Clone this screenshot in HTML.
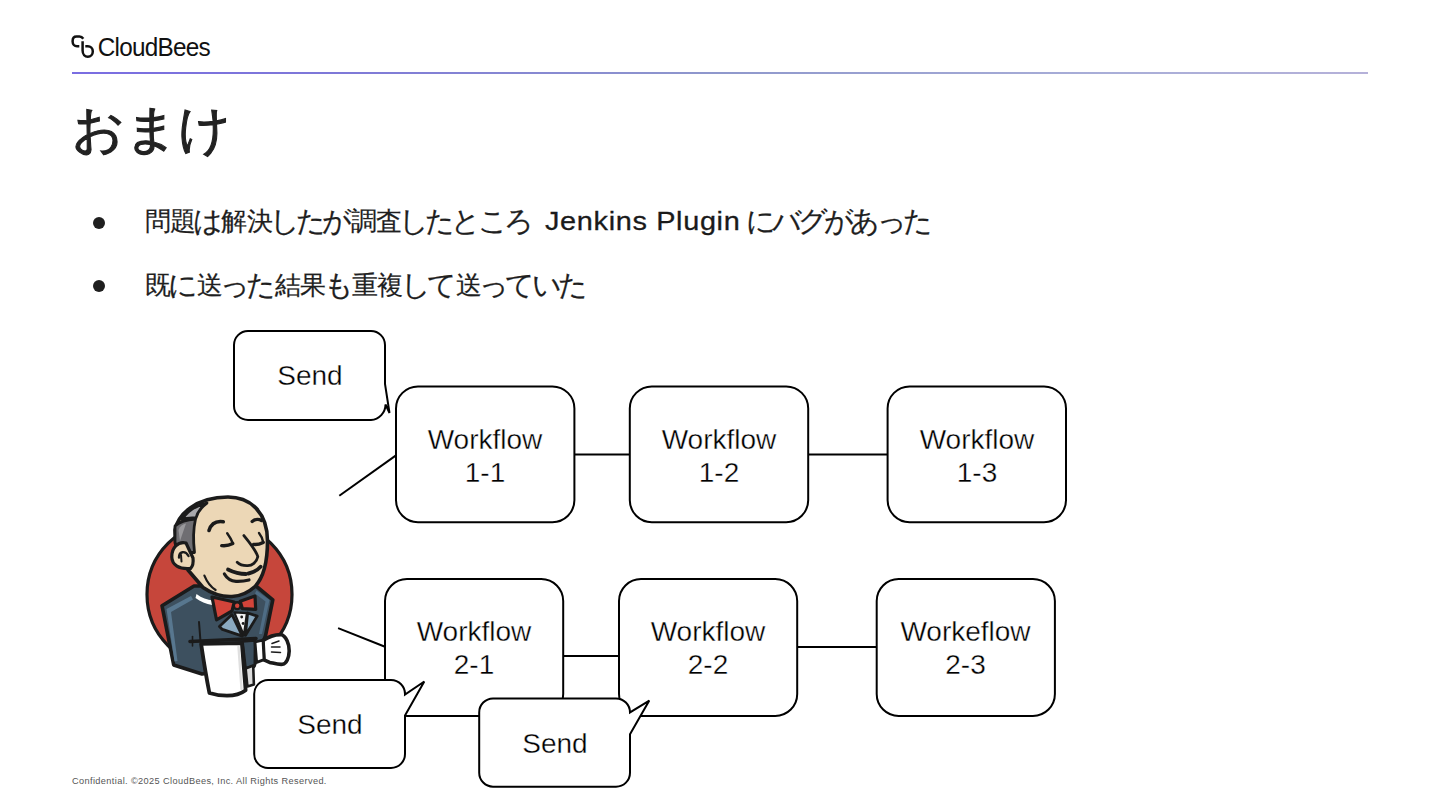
<!DOCTYPE html>
<html><head><meta charset="utf-8">
<style>
html,body{margin:0;padding:0;background:#fff;width:1440px;height:810px;overflow:hidden;}
body{position:relative;font-family:"Liberation Sans",sans-serif;color:#1f1f1f;}
.abs{position:absolute;}
#logo{left:68px;top:30px;}
#brand{left:97.75px;top:33px;font-size:24.3px;letter-spacing:-0.75px;color:#111;transform:scaleY(1.06);transform-origin:0 0;}
#rule{left:72px;top:72px;width:1296px;height:2.3px;background:linear-gradient(90deg,#7a6de2 0%,#7e78d8 20%,#8f98cc 50%,#a9aed8 80%,#b5b1d9 100%);}
#title{left:72px;top:96.5px;font-size:52px;line-height:64px;color:#222;white-space:nowrap;-webkit-text-stroke:1.1px #222;}
.bul{font-size:26px;line-height:34px;white-space:nowrap;color:#1f1f1f;-webkit-text-stroke:0.2px #1f1f1f;}
.k{display:inline-block;transform:scale(1.12);}
.dot{width:12px;height:12px;border-radius:50%;background:#1f1f1f;}
#footer{left:72px;top:776px;font-size:9.2px;color:#555;letter-spacing:0.38px;white-space:nowrap;}
svg text{font-family:"Liberation Sans",sans-serif;}
</style></head>
<body>
<svg id="logo" class="abs" width="32" height="32" viewBox="0 0 32 32" fill="none" stroke="#111" stroke-width="2.5" stroke-linecap="butt" stroke-linejoin="round">
<path d="M15.3 8.8 C14.3 7.3 13.3 6.6 11.5 6.6 H8.5 C6 6.6 4.6 8.5 4.6 11.2 C4.6 14.3 6.5 16.3 9 16.3 H11.3"/>
<path d="M14.6 11.3 V20.5 C14.6 24.3 17 26.8 19.8 26.8 C22.8 26.8 24.8 24.3 24.8 21.5 C24.8 18.3 22.5 16.2 19.8 16.2 H17.3"/>
</svg>
<div id="brand" class="abs">CloudBees</div>
<div id="rule" class="abs"></div>
<div id="title" class="abs">おまけ</div>
<div class="abs dot" style="left:93.4px;top:217px"></div>
<div class="abs bul" style="left:144.7px;top:204px;letter-spacing:-0.78px">問題<span class="k">は</span>解決<span class="k">し</span><span class="k">た</span><span class="k">が</span>調査<span class="k">し</span><span class="k">た</span><span class="k">と</span><span class="k">こ</span><span class="k">ろ</span></div>
<div class="abs bul" style="left:544.6px;top:204px;font-size:26.5px;letter-spacing:0.6px;transform:scaleX(1.09);transform-origin:0 0;color:#1a1a1a;-webkit-text-stroke:0.3px #1a1a1a">Jenkins Plugin</div>
<div class="abs bul" style="left:747.5px;top:204px;letter-spacing:-0.8px"><span class="k">に</span><span class="k">バ</span><span class="k">グ</span><span class="k">が</span><span class="k">あ</span><span class="k">っ</span><span class="k">た</span></div>
<div class="abs dot" style="left:93.4px;top:280px"></div>
<div class="abs bul" style="left:144.7px;top:268px;letter-spacing:-0.6px">既<span class="k">に</span>送<span class="k">っ</span><span class="k">た</span>結果<span class="k">も</span>重複<span class="k">し</span><span class="k">て</span>送<span class="k">っ</span><span class="k">て</span><span class="k">い</span><span class="k">た</span></div>

<svg class="abs" style="left:0;top:0" width="1440" height="810" viewBox="0 0 1440 810">
<!-- Jenkins -->
<g id="jenkins" stroke-linejoin="round" stroke-linecap="round">
  <circle cx="219.5" cy="594.5" r="72.5" fill="#c6463b" stroke="#1b1b1b" stroke-width="3.2"/>
  <!-- jacket -->
  <path d="M162 605.7 L194 586 L225 586 L256 586 L272.8 599.8 L265.6 635.4 L253.7 666.5 L202 674 L173.7 665 Z" fill="#3d505f" stroke="#1b1b1b" stroke-width="3.6"/>
  <path d="M166.5 609 L191 596 L193 599.5 L171 612 L177.5 661 L174.5 661.5 Z" fill="#58778f"/>
  <path d="M256.5 590.5 L269.5 600 L262 634 L259 634 L265.5 601.5 L255 593.5 Z" fill="#4e6c84"/>
  <path d="M199 622 L200.4 640" stroke="#1b1b1b" stroke-width="2" fill="none"/>
  <!-- head -->
  <path d="M228 497 C250 497 267.5 512 267.5 541 C267.5 563 263 578 255 586.5 C249 592 241 596 232 596.5 C221 597 211 593 203 587.5 L188 570 L176 548 L175 530 C178 515 195 497 228 497 Z" fill="#ecd7b6" stroke="#1b1b1b" stroke-width="3.6"/>
  <!-- hair -->
  <path d="M175 526 C180 521.5 188 519.5 195.5 519 C193.5 528 193 540 194.5 552.5 L186 552.5 L175 543 Z" fill="#6f6e72" stroke="#1b1b1b" stroke-width="2.8"/>
  <path d="M178.5 530 C180 526 183 524 186 523.5 L180 541 Z" fill="#9a999c"/>
  <path d="M182 519.5 C188 510 197 505 207 503 C201.5 507 197.5 512 196 518 C190.5 517.5 186 518 182 519.5 Z" fill="#a9a8ab" stroke="#1b1b1b" stroke-width="2.8"/>
  <!-- ear -->
  <path d="M186 543 C178 541 171.5 548 171.8 557 C172 565 179 569.5 190.5 568.5 C193 566 193.5 562 193 558 Z" fill="#ecd7b6" stroke="#1b1b1b" stroke-width="3.2"/>
  <path d="M179 557.5 C179 551.5 185 550 188.5 556" fill="none" stroke="#1b1b1b" stroke-width="2.4"/>
  <path d="M181 555 L181.5 561.5" fill="none" stroke="#1b1b1b" stroke-width="2"/>
  <!-- brows -->
  <path d="M209 530.5 C211 524 215.5 520.5 223.3 521.7" fill="none" stroke="#1b1b1b" stroke-width="3.6"/>
  <path d="M252.2 521.5 C255 519.3 258.5 518.8 261.5 520.5" fill="none" stroke="#1b1b1b" stroke-width="3.4"/>
  <!-- eyes -->
  <path d="M227.2 533.3 C229.5 536.5 231.5 540 232.8 543.3" fill="none" stroke="#1b1b1b" stroke-width="2.4"/>
  <path d="M232.8 543.5 C229 545.5 225 546 221.7 545.6" fill="none" stroke="#1b1b1b" stroke-width="3.4"/>
  <path d="M259 533 C261 535.5 262.5 539 263.2 542.2" fill="none" stroke="#1b1b1b" stroke-width="2.4"/>
  <path d="M263.2 542.4 C260 544 256.5 544.8 253.6 544.4" fill="none" stroke="#1b1b1b" stroke-width="3.4"/>
  <!-- nose -->
  <path d="M243.9 535.6 C250 543 256 550.5 257.8 556.7 C256.5 562.5 252 565.6 247.8 565.6 C243.5 565.8 239.5 564.5 237.2 562.2" fill="none" stroke="#1b1b1b" stroke-width="2.8"/>
  <!-- mustache + smile -->
  <path d="M228 569.5 C234 572.5 240 574 246 574" fill="none" stroke="#1b1b1b" stroke-width="3.8"/>
  <path d="M248.5 573.5 C253 572.8 257.5 570 260.6 566.7" fill="none" stroke="#1b1b1b" stroke-width="3.8"/>
  <path d="M224.4 574 C227 578.5 231 581 236 581.3 C241 581.5 245 581 249 580" fill="none" stroke="#1b1b1b" stroke-width="3.2"/>
  <path d="M204.4 575.6 C207 582 211 587 215.6 590" fill="none" stroke="#1b1b1b" stroke-width="2.2"/>
  <!-- collar -->
  <path d="M196.5 594 C202 598 207 600 213 600.5 L212 605 C206 604 200.5 601.5 195.5 598 Z" fill="#fff"/>
  <!-- lapels & shirt -->
  <path d="M219.4 626.5 L232 614.6 L242.4 636.1 L222.4 629.4 Z" fill="#8aa9c0" stroke="#1b1b1b" stroke-width="2.8"/>
  <path d="M247.6 613 L257.2 616.1 L245.4 635.4 Z" fill="#8aa9c0" stroke="#1b1b1b" stroke-width="2.8"/>
  <path d="M234.3 612.4 L246.9 613.1 L243.9 635.4 Z" fill="#f4f4f4" stroke="#1b1b1b" stroke-width="2.2"/>
  <circle cx="241.7" cy="617" r="1.4" fill="#1b1b1b"/>
  <circle cx="243.1" cy="623.5" r="1.4" fill="#1b1b1b"/>
  <!-- bow tie -->
  <path d="M212 597 L234.3 602 L232 611 L216.5 619.8 Z" fill="#d2443a" stroke="#1b1b1b" stroke-width="3.2"/>
  <path d="M240.2 601.3 L255 596.1 L255.7 609.4 L242.4 608.7 Z" fill="#d2443a" stroke="#1b1b1b" stroke-width="3.2"/>
  <circle cx="237.2" cy="605.7" r="3.4" fill="#d2443a" stroke="#1b1b1b" stroke-width="2.4"/>
  <!-- arm line -->
  <path d="M190 641.5 L256 638.5" fill="none" stroke="#1b1b1b" stroke-width="3.6"/>
  <path d="M192.5 636.5 L192.5 646" fill="none" stroke="#1b1b1b" stroke-width="1.6"/>
  <!-- sleeve -->
  <path d="M242.5 641.5 L255 640.5 L254.8 665.5 L245.6 668.5 Z" fill="#3d505f" stroke="#1b1b1b" stroke-width="2.6"/>
  <path d="M245.6 668.5 L253.2 665.5 L253.9 684.6 L247.4 686.5 Z" fill="#dcdcdc" stroke="#1b1b1b" stroke-width="2.6"/>
  <!-- glove -->
  <path d="M263 640.5 C268 637 275 634.5 281 634.6 C286 636 289.5 644 289.2 651 C289 658 286.5 663.5 282.6 664.3 C278 664.8 273 663 269.6 662.4 L264 659.8 Z" fill="#fff" stroke="#1b1b1b" stroke-width="3.6"/>
  <path d="M255 642 L263 640.2 L264 659.6 L256.7 662.4 Z" fill="#fff" stroke="#1b1b1b" stroke-width="2.8"/>
  <path d="M272 643.5 L279 641 M271.5 647 L280 647 M271.5 652 L280.5 652.5" stroke="#1b1b1b" stroke-width="1.5"/>
  <!-- towel -->
  <path d="M201.1 643.9 L241.9 643 C243 658 244.5 675 245.6 690.2 C240 694.5 233 695.7 227 695.7 C220 695.7 214 694.5 209.4 693 C206 676 203.5 660 201.1 643.9 Z" fill="#fff" stroke="#1b1b1b" stroke-width="3.8"/>
  <path d="M238.5 647 C239.5 660 240.5 675 241.5 689" stroke="#e0e0e0" stroke-width="2.4" fill="none"/>
</g>
<g fill="#fff" stroke="#000" stroke-width="2">
  <!-- connectors -->
  <line x1="339.3" y1="495.7" x2="396" y2="455.4"/>
  <line x1="574" y1="454.5" x2="630" y2="454.5"/>
  <line x1="808" y1="454.5" x2="888" y2="454.5"/>
  <line x1="338.1" y1="628.1" x2="385" y2="646.7"/>
  <line x1="563" y1="656" x2="619" y2="656"/>
  <line x1="797" y1="647" x2="877" y2="647"/>
  <!-- row 1 -->
  <rect x="396" y="386.4" width="178.4" height="135.8" rx="22"/>
  <rect x="629.8" y="386.4" width="178.4" height="135.8" rx="22"/>
  <rect x="887.6" y="386.4" width="178.4" height="135.8" rx="22"/>
  <!-- row 2 -->
  <rect x="385" y="579" width="178.2" height="137" rx="22"/>
  <rect x="619" y="579" width="178.2" height="137" rx="22"/>
  <rect x="876.7" y="579" width="178.2" height="137" rx="22"/>
  <!-- bubble 1 -->
  <path d="M248 331 H371 A14 14 0 0 1 385 345 V384 L389.5 413 L385.5 404.5 A15.5 15.5 0 0 1 371 420 H248 A14 14 0 0 1 234 406 V345 A14 14 0 0 1 248 331 Z"/>
  <!-- bubble 2 -->
  <path d="M268 680 H391 A14 14 0 0 1 405 694.5 L424.3 681.5 L405 715.5 V754 A14 14 0 0 1 391 768 H268 A14 14 0 0 1 254.2 754 V694 A14 14 0 0 1 268 680 Z"/>
  <!-- bubble 3 -->
  <path d="M493 698.4 H616 A14 14 0 0 1 630 712.4 L649.3 700.6 L630 734.2 V772.7 A14 14 0 0 1 616 786.7 H493 A14 14 0 0 1 479.2 772.7 V712.4 A14 14 0 0 1 493 698.4 Z"/>
</g>
<g font-size="28" fill="#000" text-anchor="middle" stroke="#fff" stroke-width="0.35">
  <text x="310" y="384.9">Send</text>
  <text x="485" y="448.7">Workflow</text><text x="485" y="481.7">1-1</text>
  <text x="719" y="448.7">Workflow</text><text x="719" y="481.7">1-2</text>
  <text x="977" y="448.7">Workflow</text><text x="977" y="481.7">1-3</text>
  <text x="474" y="640.7">Workflow</text><text x="474" y="673.7">2-1</text>
  <text x="708" y="640.7">Workflow</text><text x="708" y="673.7">2-2</text>
  <text x="965.5" y="640.7">Workeflow</text><text x="965.5" y="673.7">2-3</text>
  <text x="330" y="733.9">Send</text>
  <text x="555" y="752.5">Send</text>
</g>
</svg>

<div id="footer" class="abs">Confidential. ©2025 CloudBees, Inc. All Rights Reserved.</div>
</body></html>
